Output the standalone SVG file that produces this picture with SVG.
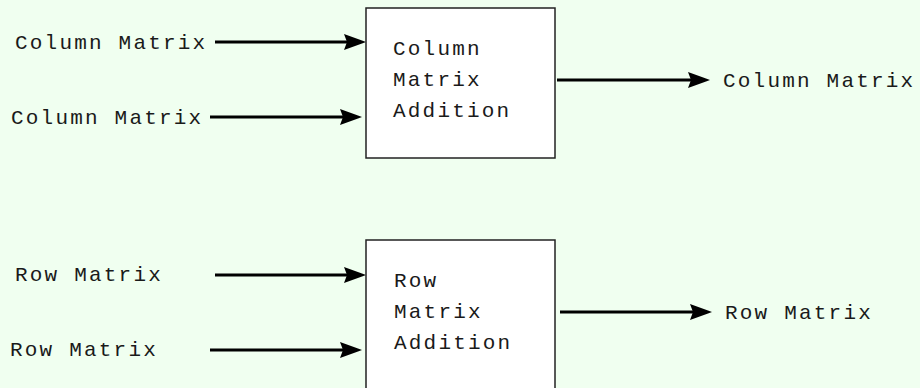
<svg xmlns="http://www.w3.org/2000/svg" width="920" height="388" viewBox="0 0 920 388">
  <defs>
    <marker id="arrow" viewBox="-26 -10 28 20" refX="-8" refY="0" markerWidth="28" markerHeight="20" markerUnits="userSpaceOnUse" orient="auto">
      <path d="M0,0 L-4,-1.5 L-22,-8 L-19,0 L-22,8 L-4,1.5 Z" fill="#000"/>
    </marker>
    <style>
      .bg { fill: #F0FFF0; }
      .box { fill: #FFFFFF; stroke: #222222; stroke-width: 1.5; }
      .lbl { font-family: "Liberation Mono", "DejaVu Sans Mono", monospace; font-size: 21px; letter-spacing: 2.2px; fill: #1a1a1a; }
      .conn { stroke: #000; stroke-width: 3; fill: none; marker-end: url(#arrow); }
    </style>
  </defs>
  <rect class="bg" x="0" y="0" width="920" height="388"/>

  <g id="connectors">
    <line class="conn" x1="215" y1="42" x2="358" y2="42"/>
    <line class="conn" x1="210" y1="117" x2="354" y2="117"/>
    <line class="conn" x1="557" y1="80" x2="702" y2="80"/>
    <line class="conn" x1="215" y1="275" x2="358" y2="275"/>
    <line class="conn" x1="210" y1="350" x2="354" y2="350"/>
    <line class="conn" x1="560" y1="312" x2="704" y2="312"/>
  </g>

  <g id="in-col-1"><text class="lbl" x="15" y="49">Column Matrix</text></g>
  <g id="in-col-2"><text class="lbl" x="11" y="124">Column Matrix</text></g>
  <g id="col-add">
    <rect class="box" x="366" y="8" width="189" height="150"/>
    <text class="lbl" x="393" y="55">Column</text>
    <text class="lbl" x="393" y="86">Matrix</text>
    <text class="lbl" x="393" y="117">Addition</text>
  </g>
  <g id="out-col"><text class="lbl" x="723" y="87">Column Matrix</text></g>

  <g id="in-row-1"><text class="lbl" x="15" y="281">Row Matrix</text></g>
  <g id="in-row-2"><text class="lbl" x="10" y="356">Row Matrix</text></g>
  <g id="row-add">
    <rect class="box" x="366" y="240" width="189" height="170"/>
    <text class="lbl" x="394" y="287">Row</text>
    <text class="lbl" x="394" y="318">Matrix</text>
    <text class="lbl" x="394" y="349">Addition</text>
  </g>
  <g id="out-row"><text class="lbl" x="725" y="319">Row Matrix</text></g>
</svg>
